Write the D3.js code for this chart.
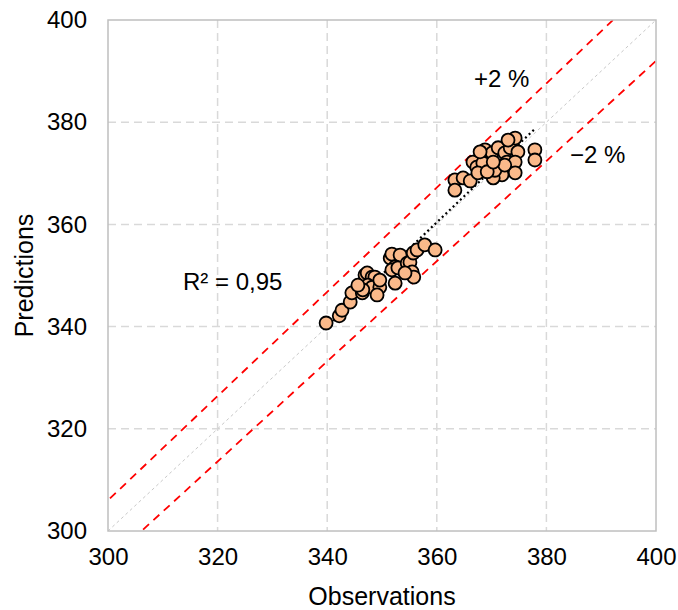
<!DOCTYPE html>
<html>
<head>
<meta charset="utf-8">
<script src="https://cdn.jsdelivr.net/npm/d3@7"></script>
<style>
  body { margin: 0; background: #fff; }
  text { font-family: Arial, "Liberation Sans", sans-serif; fill: #000; }
</style>
</head>
<body>
<svg id="chart" width="678" height="610"></svg>
<script>
// observed values
const observations = [
  339.8, 342.2, 342.7, 344.2, 344.5, 346.4, 346.9, 347.3, 348.2, 348.7,
  347.4, 348.2, 349.6, 349.6, 349.1, 346.5, 345.6, 351.5, 351.8, 353.3,
  352.4, 351.8, 352.9, 354.6, 355.1, 355.7, 356.4, 357.8, 359.7, 355.5,
  355.8, 352.4, 354.2,
  363.3, 363.3, 364.8, 366.1, 366.6, 367.3, 368.8, 370.1, 371.2, 372.4,
  373.4, 374.3, 374.8, 372.8, 374.3, 374.3, 371.9, 370.3, 370.6, 368.4,
  367.5, 369.2, 377.9, 377.9, 372.4, 370.3, 373.0, 367.9
];
// predicted values
const predictions = [
  340.7, 342.1, 343.2, 344.8, 346.6, 346.6, 350.1, 350.5, 349.7, 349.7,
  348.1, 347.7, 347.7, 349.1, 346.2, 347.2, 348.1, 353.4, 354.2, 354.0,
  351.7, 351.1, 351.5, 352.4, 352.6, 354.4, 355.0, 356.0, 355.0, 350.7,
  349.7, 348.5, 350.5,
  368.7, 366.7, 369.1, 368.5, 372.2, 371.2, 374.6, 374.0, 375.0, 374.0,
  375.0, 376.9, 374.2, 372.2, 372.2, 370.1, 369.7, 369.1, 370.6, 372.0,
  370.1, 370.3, 374.6, 372.6, 371.6, 372.2, 376.5, 374.2
];
const xTicks = [300, 320, 340, 360, 380, 400];
const yTicks = [300, 320, 340, 360, 380, 400];
const bandPct = 0.02;

const svg = d3.select("#chart");
const margin = { top: 20, right: 22, bottom: 79, left: 108 };
const width = 678 - margin.left - margin.right;
const height = 610 - margin.top - margin.bottom;

const x = d3.scaleLinear().domain([300, 400]).range([0, width]);
const y = d3.scaleLinear().domain([300, 400]).range([height, 0]);

const g = svg.append("g").attr("transform", `translate(${margin.left},${margin.top})`);

// grid
g.selectAll(".vgrid").data(xTicks.slice(1, -1)).enter().append("line")
  .attr("x1", d => x(d)).attr("x2", d => x(d))
  .attr("y1", 0).attr("y2", height)
  .attr("stroke", "#d9d9d9").attr("stroke-width", 1.5).attr("stroke-dasharray", "8,5");
g.selectAll(".hgrid").data(yTicks.slice(1, -1)).enter().append("line")
  .attr("x1", 0).attr("x2", width)
  .attr("y1", d => y(d)).attr("y2", d => y(d))
  .attr("stroke", "#d9d9d9").attr("stroke-width", 1.5).attr("stroke-dasharray", "8,5");

svg.append("defs").append("clipPath").attr("id", "plotclip")
  .append("rect").attr("width", width).attr("height", height);
const inner = g.append("g").attr("clip-path", "url(#plotclip)");

// 1:1 line
inner.append("line")
  .attr("x1", x(300)).attr("y1", y(300)).attr("x2", x(400)).attr("y2", y(400))
  .attr("stroke", "#c8c8c8").attr("stroke-width", 1).attr("stroke-dasharray", "3,3");

// +/- 2 % lines
[1 + bandPct, 1 - bandPct].forEach(k => {
  inner.append("line")
    .attr("x1", x(280)).attr("y1", y(280 * k)).attr("x2", x(420)).attr("y2", y(420 * k))
    .attr("stroke", "#ff0000").attr("stroke-width", 1.8).attr("stroke-dasharray", "8,6");
});

// trend line (least squares)
const mx = d3.mean(observations), my = d3.mean(predictions);
const slope = d3.sum(observations, (v, i) => (v - mx) * (predictions[i] - my)) /
              d3.sum(observations, v => (v - mx) ** 2);
const icpt = my - slope * mx;
const [x0, x1] = d3.extent(observations);
inner.append("line")
  .attr("x1", x(x0)).attr("y1", y(icpt + slope * x0))
  .attr("x2", x(x1)).attr("y2", y(icpt + slope * x1))
  .attr("stroke", "#000").attr("stroke-width", 2.2).attr("stroke-dasharray", "2,3");

// points
g.selectAll(".pt").data(observations.map((o, i) => [o, predictions[i]])).enter()
  .append("circle")
  .attr("cx", d => x(d[0])).attr("cy", d => y(d[1])).attr("r", 6.5)
  .attr("fill", "#fab98a").attr("stroke", "#000").attr("stroke-width", 1.8);

// frame
g.append("rect").attr("width", width).attr("height", height)
  .attr("fill", "none").attr("stroke", "#bfbfbf").attr("stroke-width", 1.5);

// axes labels
const xAxis = g.append("g").attr("transform", `translate(0,${height})`)
  .call(d3.axisBottom(x).tickValues(xTicks).tickSize(0).tickPadding(17));
xAxis.select(".domain").remove();
xAxis.selectAll("text").style("font-size", "24px").attr("fill", "#000")
  .style("font-family", "Arial, 'Liberation Sans', sans-serif");

const yAxis = g.append("g")
  .call(d3.axisLeft(y).tickValues(yTicks).tickSize(0).tickPadding(21));
yAxis.select(".domain").remove();
yAxis.selectAll("text").style("font-size", "24px").attr("fill", "#000")
  .style("font-family", "Arial, 'Liberation Sans', sans-serif");

svg.append("text").attr("x", margin.left + width / 2).attr("y", 605)
  .attr("text-anchor", "middle").style("font-size", "25px").text("Observations");
svg.append("text").attr("transform", `translate(33,${margin.top + height / 2}) rotate(-90)`)
  .attr("text-anchor", "middle").style("font-size", "25px").text("Predictions");

// annotations
svg.append("text").attr("x", 474).attr("y", 87).style("font-size", "24px").text("+2 %");
svg.append("text").attr("x", 570).attr("y", 163).style("font-size", "24px").text("\u22122 %");
svg.append("text").attr("x", 183).attr("y", 290).style("font-size", "24px").text("R\u00b2 = 0,95");
</script>
</body>
</html>
